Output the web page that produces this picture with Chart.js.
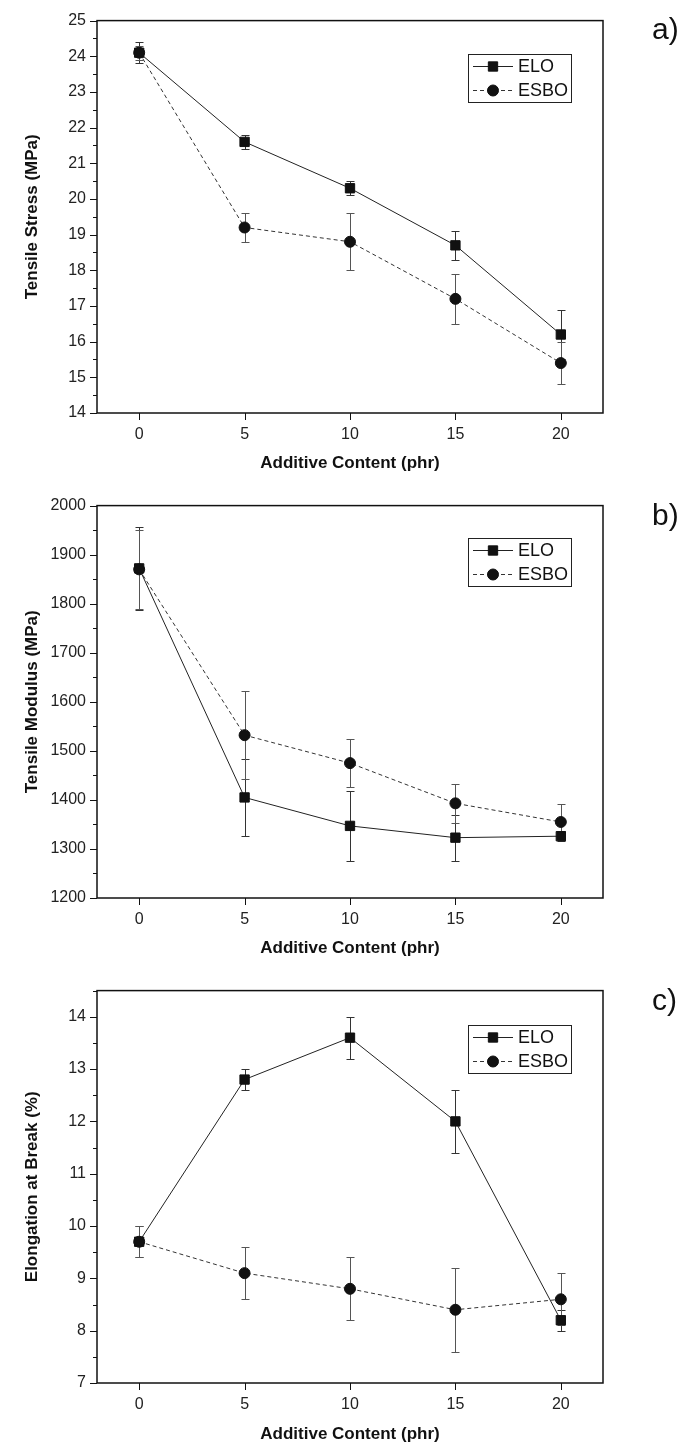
<!DOCTYPE html>
<html>
<head>
<meta charset="utf-8">
<script src="https://cdn.jsdelivr.net/npm/chart.js@4.4.1/dist/chart.umd.min.js"></script>
<style>
    body { margin: 0; background: #fff; }
    #wadah { position: relative; width: 694px; height: 1450px; }
    .panel { position: absolute; left: 0; width: 694px; }
    .huruf { position: absolute; left: 652px; font: 30px "Liberation Sans", Arial, sans-serif; color: #111; line-height: 1; }
</style>
</head>
<body>
<div id="wadah">
    <div class="panel" style="top:0px;height:485px"><canvas id="grafikA" width="694" height="485"></canvas></div>
    <div class="panel" style="top:485px;height:485px"><canvas id="grafikB" width="694" height="485"></canvas></div>
    <div class="panel" style="top:970px;height:480px"><canvas id="grafikC" width="694" height="480"></canvas></div>
    <div class="huruf" style="top:14px">a)</div>
    <div class="huruf" style="top:500px">b)</div>
    <div class="huruf" style="top:985px">c)</div>
</div>
<script>
// data
const kandungan = [0, 5, 10, 15, 20]
const xTicks = [0, 5, 10, 15, 20]
const namaSeri = ['ELO', 'ESBO']

const stressELO = [24.1, 21.6, 20.3, 18.7, 16.2]
const stressELOErr = [0.3, 0.2, 0.2, 0.4, 0.7]
const stressESBO = [24.1, 19.2, 18.8, 17.2, 15.4]
const stressESBOErr = [0.2, 0.4, 0.8, 0.7, 0.6]

const modulusELO = [1872, 1405, 1347, 1323, 1326]
const modulusELOErr = [85, 78, 71, 47, 10]
const modulusESBO = [1870, 1532, 1475, 1393, 1355]
const modulusESBOErr = [80, 90, 49, 40, 37]

const elongELO = [9.7, 12.8, 13.6, 12.0, 8.2]
const elongELOErr = [0.3, 0.2, 0.4, 0.6, 0.2]
const elongESBO = [9.7, 9.1, 8.8, 8.4, 8.6]
const elongESBOErr = [0.3, 0.5, 0.6, 0.8, 0.5]

const FONT = '"Liberation Sans", Arial, sans-serif'

// gambar error bar, bingkai, tick dan legenda
const bingkai = {
    id: 'bingkai',
    beforeDatasetsDraw(chart) {
        const ctx = chart.ctx
        const y = chart.scales.y
        ctx.save()
        ctx.lineWidth = 1
        chart.data.datasets.forEach((ds, i) => {
            const meta = chart.getDatasetMeta(i)
            ctx.strokeStyle = ds.warnaGalat
            meta.data.forEach((pt, j) => {
                const v = ds.data[j].y
                const e = ds.galat[j]
                const atas = Math.round(y.getPixelForValue(v + e)) + 0.5
                const bawah = Math.round(y.getPixelForValue(v - e)) + 0.5
                const px = Math.round(pt.x) + 0.5
                ctx.beginPath()
                ctx.moveTo(px, atas)
                ctx.lineTo(px, bawah)
                ctx.moveTo(px - 4, atas)
                ctx.lineTo(px + 4, atas)
                ctx.moveTo(px - 4, bawah)
                ctx.lineTo(px + 4, bawah)
                ctx.stroke()
            })
        })
        ctx.restore()
    },
    afterDraw(chart, args, opts) {
        const ctx = chart.ctx
        const area = chart.chartArea
        const x = chart.scales.x
        const y = chart.scales.y
        ctx.save()
        ctx.strokeStyle = '#111'

        // bingkai
        ctx.lineWidth = 1.5
        ctx.strokeRect(area.left, area.top, area.right - area.left, area.bottom - area.top)

        // tick sumbu y (mayor dan minor)
        ctx.lineWidth = 1
        y.ticks.forEach(t => {
            const py = Math.round(y.getPixelForValue(t.value)) + 0.5
            const r = t.value / opts.yMayor
            const mayor = Math.abs(r - Math.round(r)) < 1e-6
            ctx.beginPath()
            ctx.moveTo(area.left - (mayor ? 7 : 4), py)
            ctx.lineTo(area.left, py)
            ctx.stroke()
        })
        // tick sumbu x
        x.ticks.forEach(t => {
            const px = Math.round(x.getPixelForValue(t.value)) + 0.5
            ctx.beginPath()
            ctx.moveTo(px, area.bottom)
            ctx.lineTo(px, area.bottom + 7)
            ctx.stroke()
        })

        // legenda di dalam area grafik
        const lebar = 103
        const tinggi = 48
        const kiri = Math.round(area.right - 32 - lebar)
        const atas = Math.round(area.top + opts.legendaAtas)
        ctx.lineWidth = 1
        ctx.strokeStyle = '#222'
        ctx.strokeRect(kiri + 0.5, atas + 0.5, lebar, tinggi)
        chart.data.datasets.forEach((ds, i) => {
            const yy = atas + 12.5 + i * 24
            ctx.strokeStyle = ds.borderColor
            ctx.setLineDash(ds.borderDash || [])
            ctx.beginPath()
            ctx.moveTo(kiri + 5, yy)
            ctx.lineTo(kiri + 45, yy)
            ctx.stroke()
            ctx.setLineDash([])
            ctx.fillStyle = '#111'
            ctx.strokeStyle = '#111'
            Chart.helpers.drawPoint(ctx, {
                pointStyle: ds.pointStyle,
                radius: ds.pointRadius,
                borderWidth: 1
            }, kiri + 25, yy)
            ctx.fillStyle = '#111'
            ctx.font = '18px ' + FONT
            ctx.textBaseline = 'middle'
            ctx.textAlign = 'left'
            ctx.fillText(ds.label, kiri + 50, yy + 1)
        })
        ctx.restore()
    }
}

const buatSeri = (label, nilai, galat, gaya) => {
    const titik = kandungan.map((k, i) => ({ x: k, y: nilai[i] }))
    const bulat = gaya === 'circle'
    return {
        label: label,
        data: titik,
        galat: galat,
        warnaGalat: bulat ? '#555' : '#333',
        borderColor: bulat ? '#333' : '#222',
        borderWidth: 1,
        borderDash: bulat ? [4, 3] : [],
        pointStyle: gaya,
        pointRadius: bulat ? 5.5 : 6.6,
        pointHoverRadius: bulat ? 5.5 : 6.6,
        pointBackgroundColor: '#111',
        pointBorderColor: '#111',
        pointBorderWidth: 1,
        fill: false,
        tension: 0
    }
}

// membuat satu panel grafik
const buatGrafik = (id, cfg) => {
    const canvas = document.getElementById(id)
    const ctx = canvas.getContext('2d')
    return new Chart(ctx, {
        type: 'line',
        data: {
            datasets: [
                buatSeri(namaSeri[0], cfg.elo, cfg.eloErr, 'rect'),
                buatSeri(namaSeri[1], cfg.esbo, cfg.esboErr, 'circle')
            ]
        },
        options: {
            responsive: false,
            animation: false,
            devicePixelRatio: 1,
            layout: { padding: { top: cfg.atas, right: 91, left: 0, bottom: 0 } },
            plugins: {
                legend: { display: false },
                tooltip: { enabled: false },
                bingkai: { yMayor: cfg.yMayor, legendaAtas: cfg.legendaAtas }
            },
            scales: {
                x: {
                    type: 'linear',
                    min: -2,
                    max: 22,
                    afterBuildTicks: (s) => { s.ticks = xTicks.map(v => ({ value: v })) },
                    afterFit: (s) => { s.height = cfg.tinggiX },
                    grid: { display: false, drawTicks: false },
                    border: { display: false },
                    ticks: { padding: 12, color: '#222', font: { family: FONT, size: 16 } },
                    title: {
                        display: true,
                        text: 'Additive Content (phr)',
                        color: '#111',
                        font: { family: FONT, size: 17, weight: 'bold' },
                        padding: { top: 0, bottom: cfg.padJudul }
                    }
                },
                y: {
                    min: cfg.yMin,
                    max: cfg.yMax,
                    afterFit: (s) => { s.width = 97 },
                    grid: { display: false, drawTicks: false },
                    border: { display: false },
                    ticks: {
                        stepSize: cfg.yMinor,
                        autoSkip: false,
                        padding: 11,
                        color: '#222',
                        font: { family: FONT, size: 16 },
                        callback: (v) => {
                            const r = v / cfg.yMayor
                            return Math.abs(r - Math.round(r)) < 1e-6 ? String(Math.round(v)) : ''
                        }
                    },
                    title: {
                        display: true,
                        text: cfg.judulY,
                        color: '#111',
                        font: { family: FONT, size: 17, weight: 'bold' },
                        padding: { top: 22, bottom: 0 }
                    }
                }
            }
        },
        plugins: [bingkai]
    })
}

buatGrafik('grafikA', {
    elo: stressELO, eloErr: stressELOErr, esbo: stressESBO, esboErr: stressESBOErr,
    yMin: 14, yMax: 25, yMayor: 1, yMinor: 0.5,
    judulY: 'Tensile Stress (MPa)', atas: 15, tinggiX: 72, padJudul: 11, legendaAtas: 33
})
buatGrafik('grafikB', {
    elo: modulusELO, eloErr: modulusELOErr, esbo: modulusESBO, esboErr: modulusESBOErr,
    yMin: 1200, yMax: 2000, yMayor: 100, yMinor: 50,
    judulY: 'Tensile Modulus (MPa)', atas: 15, tinggiX: 72, padJudul: 11, legendaAtas: 32
})
buatGrafik('grafikC', {
    elo: elongELO, eloErr: elongELOErr, esbo: elongESBO, esboErr: elongESBOErr,
    yMin: 7, yMax: 14.5, yMayor: 1, yMinor: 0.5,
    judulY: 'Elongation at Break (%)', atas: 14, tinggiX: 67, padJudul: 5, legendaAtas: 34
})
</script>
</body>
</html>
